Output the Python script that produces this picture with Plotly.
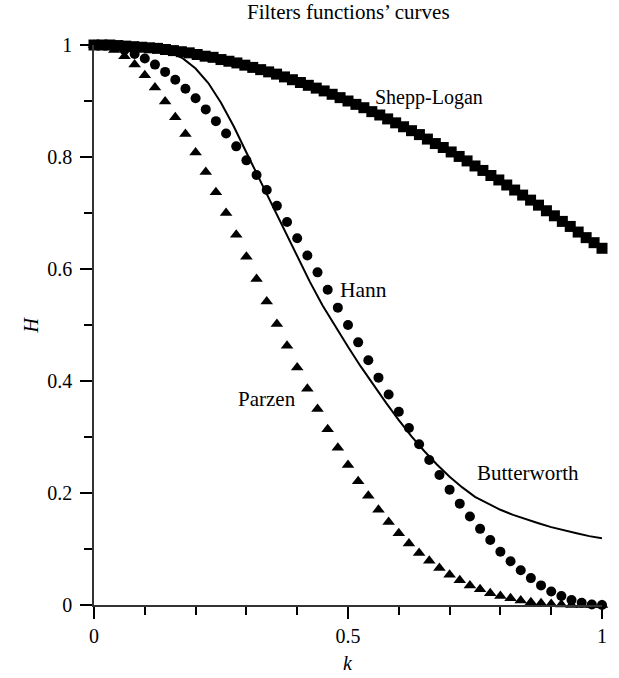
import plotly.graph_objects as go

# ---- data ----
k_sl = [0, 0.0156, 0.0313, 0.0469, 0.0625, 0.0781, 0.0938, 0.1094, 0.125, 0.1406,
        0.1563, 0.1719, 0.1875, 0.2031, 0.2188, 0.2344, 0.25, 0.2656, 0.2813, 0.2969,
        0.3125, 0.3281, 0.3438, 0.3594, 0.375, 0.3906, 0.4063, 0.4219, 0.4375, 0.4531,
        0.4688, 0.4844, 0.5, 0.5156, 0.5313, 0.5469, 0.5625, 0.5781, 0.5938, 0.6094,
        0.625, 0.6406, 0.6563, 0.6719, 0.6875, 0.7031, 0.7188, 0.7344, 0.75, 0.7656,
        0.7813, 0.7969, 0.8125, 0.8281, 0.8438, 0.8594, 0.875, 0.8906, 0.9063, 0.9219,
        0.9375, 0.9531, 0.9688, 0.9844, 1.0]
h_shepp_logan = [1.000, 1.000, 1.000, 0.999, 0.998, 0.997, 0.996, 0.995, 0.994, 0.992,
                 0.990, 0.988, 0.986, 0.983, 0.980, 0.978, 0.974, 0.971, 0.968, 0.964,
                 0.960, 0.956, 0.952, 0.948, 0.943, 0.938, 0.933, 0.928, 0.923, 0.918,
                 0.912, 0.906, 0.900, 0.894, 0.888, 0.881, 0.875, 0.868, 0.861, 0.854,
                 0.847, 0.840, 0.832, 0.824, 0.817, 0.809, 0.801, 0.793, 0.784, 0.776,
                 0.767, 0.759, 0.750, 0.741, 0.732, 0.723, 0.714, 0.704, 0.695, 0.685,
                 0.676, 0.666, 0.656, 0.647, 0.637]

k_pts = [0, 0.02, 0.04, 0.06, 0.08, 0.10, 0.12, 0.14, 0.16, 0.18,
         0.20, 0.22, 0.24, 0.26, 0.28, 0.30, 0.32, 0.34, 0.36, 0.38,
         0.40, 0.42, 0.44, 0.46, 0.48, 0.50, 0.52, 0.54, 0.56, 0.58,
         0.60, 0.62, 0.64, 0.66, 0.68, 0.70, 0.72, 0.74, 0.76, 0.78,
         0.80, 0.82, 0.84, 0.86, 0.88, 0.90, 0.92, 0.94, 0.96, 0.98, 1.00]
h_hann = [1.000, 0.999, 0.996, 0.991, 0.984, 0.976, 0.965, 0.952, 0.938, 0.922,
          0.905, 0.885, 0.864, 0.842, 0.819, 0.794, 0.768, 0.741, 0.713, 0.684,
          0.655, 0.624, 0.594, 0.563, 0.531, 0.500, 0.469, 0.437, 0.406, 0.376,
          0.345, 0.316, 0.287, 0.259, 0.232, 0.206, 0.181, 0.158, 0.136, 0.116,
          0.095, 0.078, 0.062, 0.048, 0.035, 0.024, 0.016, 0.009, 0.004, 0.001, 0.000]
h_parzen = [1.000, 0.998, 0.991, 0.980, 0.965, 0.946, 0.924, 0.899, 0.871, 0.841,
            0.808, 0.773, 0.737, 0.700, 0.661, 0.622, 0.582, 0.542, 0.502, 0.463,
            0.424, 0.386, 0.350, 0.314, 0.281, 0.250, 0.221, 0.195, 0.170, 0.148,
            0.128, 0.110, 0.093, 0.079, 0.066, 0.054, 0.044, 0.035, 0.028, 0.021,
            0.016, 0.012, 0.008, 0.005, 0.003, 0.002, 0.001, 0.000, 0.000, 0.000, 0.000]

k_bw = [0, 0.025, 0.05, 0.075, 0.10, 0.125, 0.15, 0.175, 0.20, 0.225,
        0.25, 0.275, 0.30, 0.325, 0.35, 0.375, 0.40, 0.425, 0.45, 0.475,
        0.50, 0.525, 0.55, 0.575, 0.60, 0.625, 0.65, 0.675, 0.70, 0.725,
        0.75, 0.775, 0.80, 0.825, 0.85, 0.875, 0.90, 0.925, 0.95, 0.975, 1.00]
h_butterworth = [1.000, 1.000, 1.000, 0.999, 0.997, 0.994, 0.987, 0.976, 0.958, 0.932,
                 0.897, 0.855, 0.808, 0.762, 0.716, 0.669, 0.622, 0.577, 0.535, 0.497,
                 0.461, 0.426, 0.393, 0.361, 0.330, 0.301, 0.275, 0.251, 0.229, 0.210,
                 0.193, 0.181, 0.170, 0.161, 0.153, 0.146, 0.139, 0.133, 0.128, 0.123, 0.119]

labels = ["Shepp-Logan", "Hann", "Parzen", "Butterworth"]
label_k = [0.660, 0.531, 0.340, 0.854]
label_h = [0.907, 0.5625, 0.368, 0.236]
label_size = [20, 21.5, 21, 21]

x_ticks = [0, 0.5, 1]
y_ticks = [0, 0.2, 0.4, 0.6, 0.8, 1]

FONT = "Liberation Serif"

fig = go.Figure()
fig.add_trace(go.Scatter(x=k_bw, y=h_butterworth, mode="lines", line=dict(color="black", width=2),
                         cliponaxis=False, showlegend=False))
fig.add_trace(go.Scatter(x=k_pts, y=h_hann, mode="markers", marker=dict(symbol="circle", size=10, color="black"),
                         cliponaxis=False, showlegend=False))
fig.add_trace(go.Scatter(x=k_pts, y=h_parzen, mode="markers", marker=dict(symbol="triangle-up", size=11, color="black"),
                         cliponaxis=False, showlegend=False))
fig.add_trace(go.Scatter(x=k_sl, y=h_shepp_logan, mode="markers", marker=dict(symbol="square", size=11, color="black"),
                         cliponaxis=False, showlegend=False))

for t, kx, hy, s in zip(labels, label_k, label_h, label_size):
    fig.add_annotation(x=kx, y=hy, xref="x", yref="y", text=t, showarrow=False,
                       xanchor="center", yanchor="middle",
                       font=dict(family=FONT, size=s, color="black"))

fig.add_annotation(x=0.5, y=1.0589, xref="paper", yref="paper", text="Filters functions’ curves",
                   showarrow=False, font=dict(family=FONT, size=21, color="black"),
                   xanchor="center", yanchor="middle")
fig.add_annotation(x=-0.125, y=0.5, xref="paper", yref="paper", text="<i>H</i>", textangle=-90,
                   showarrow=False, font=dict(family=FONT, size=20, color="black"),
                   xanchor="center", yanchor="middle")
fig.add_annotation(x=0.5, y=-0.1036, xref="paper", yref="paper", text="<i>k</i>",
                   showarrow=False, font=dict(family=FONT, size=20, color="black"),
                   xanchor="center", yanchor="middle")

fig.update_xaxes(range=[0, 1], tickvals=x_ticks, ticktext=["0", "0.5", "1"], ticks="outside", ticklen=12,
                 tickwidth=1.5, tickcolor="black", showline=True, linecolor="#333", linewidth=1.5,
                 showgrid=False, zeroline=False,
                 minor=dict(dtick=0.1, tick0=0, ticks="outside", ticklen=8, tickwidth=1.5, tickcolor="black", showgrid=False),
                 tickfont=dict(family=FONT, size=20, color="black"))
fig.update_yaxes(range=[0, 1], tickvals=y_ticks, ticktext=["0", "0.2", "0.4", "0.6", "0.8", "1"], ticks="outside",
                 ticklen=12, tickwidth=1.5, tickcolor="black", showline=True, linecolor="#333", linewidth=1.5,
                 showgrid=False, zeroline=False, ticklabelstandoff=4,
                 minor=dict(dtick=0.1, tick0=0, ticks="outside", ticklen=8, tickwidth=1.5, tickcolor="black", showgrid=False),
                 tickfont=dict(family=FONT, size=20, color="black"))

fig.update_layout(width=619, height=678, margin=dict(l=94, r=13, t=45, b=73),
                  plot_bgcolor="white", paper_bgcolor="white", showlegend=False)

fig.write_html("out.html")
